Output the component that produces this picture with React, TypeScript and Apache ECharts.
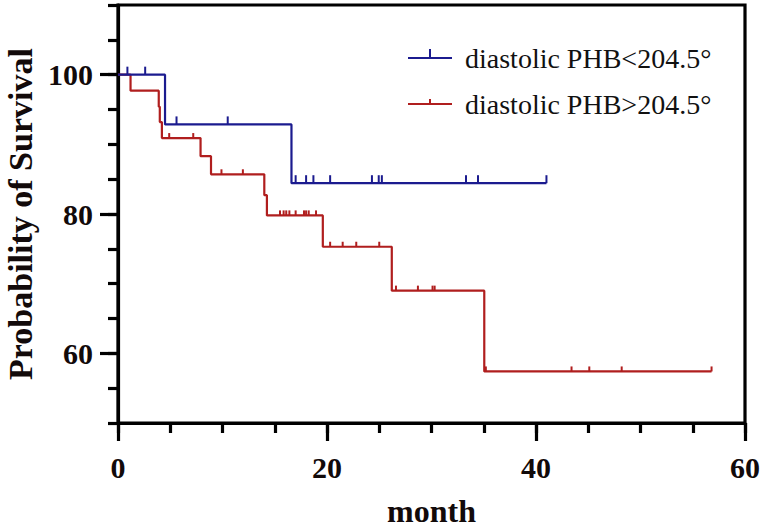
import React, { useEffect, useRef } from "react";
import * as echarts from "echarts";

// ---- data ----
const blueName = "diastolic PHB<204.5°";
const redName = "diastolic PHB>204.5°";

const blueEventTimes = [0, 4.5, 16.6];
const blueEventSurvival = [100, 92.86, 84.42];
const blueCensorTimes = [0.9, 2.6, 5.6, 10.5, 17.0, 18.0, 18.7, 20.3, 24.3, 24.95, 25.25, 33.3, 34.45, 41.0];

const redEventTimes = [0, 1.2, 3.9, 4.0, 4.2, 7.9, 8.9, 14.0, 14.25, 19.6, 26.2, 35.05];
const redEventSurvival = [100, 97.7, 95.4, 93.2, 90.9, 88.3, 85.7, 82.7, 79.8, 75.3, 69.0, 57.4];
const redCensorTimes = [
  4.9, 7.2, 9.9, 11.95, 15.5, 15.85, 16.1, 16.4, 17.0, 17.8, 18.0, 18.25, 18.95,
  20.3, 21.5, 22.8, 25.0, 26.6, 28.7, 30.1, 30.3, 35.2, 43.4, 45.1, 48.2, 56.8,
];

const xMajorTicks = [0, 20, 40, 60];
const yMajorTicks = [60, 80, 100];

const BLUE = "#1b1b8f";
const RED = "#b01e1e";
const SERIF = "Liberation Serif";

function buildKM(eventT: number[], eventS: number[], censorT: number[], tick: number) {
  const pts: { t: number; s: number; c: boolean }[] = [];
  eventT.forEach((t, i) => pts.push({ t, s: eventS[i], c: false }));
  censorT.forEach((t) => {
    let s = eventS[0];
    for (let i = 0; i < eventT.length; i++) if (eventT[i] <= t) s = eventS[i];
    pts.push({ t, s, c: true });
  });
  pts.sort((a, b) => (a.t - b.t) || (a.c === b.c ? 0 : a.c ? 1 : -1));
  return pts.map((p) =>
    p.c
      ? { value: [p.t, p.s], symbol: "rect", symbolSize: [2, tick], symbolOffset: [0, -tick / 2] }
      : { value: [p.t, p.s], symbol: "none" }
  );
}

const blueIcon = "path://M0,9L44,9L44,11L0,11Z M21,1L23,1L23,9L21,9Z M0,19L0.01,19";
const redIcon = "path://M0,9L44,9L44,11L0,11Z M21,5L23,5L23,9L21,9Z M0,1L0.01,1 M0,19L0.01,19";

export default function App() {
  const ref = useRef<HTMLDivElement>(null);
  useEffect(() => {
    document.body.style.margin = "0";
    if (!ref.current) return;
    const chart = echarts.init(ref.current, undefined, { renderer: "svg" });
    const axisLineStyle = { color: "#000", width: 3.2 };
    chart.setOption({
      animation: false,
      backgroundColor: "#fff",
      grid: {
        left: 118,
        right: 20,
        top: 5,
        bottom: 107,
        containLabel: false,
        outerBoundsMode: "none",
        show: true,
        borderColor: "#000",
        borderWidth: 3.2,
      },
      legend: {
        orient: "vertical",
        left: 408,
        top: 41,
        padding: 0,
        itemWidth: 44,
        itemHeight: 18,
        itemGap: 12,
        selectedMode: false,
        itemStyle: { borderWidth: 0 },
        textStyle: {
          fontFamily: SERIF,
          fontSize: 28,
          color: "#111",
          lineHeight: 34,
          padding: [0, 0, 0, 8],
        },
        data: [
          { name: blueName, icon: blueIcon },
          { name: redName, icon: redIcon },
        ],
      },
      xAxis: [
        {
          type: "value",
          min: 0,
          max: 60,
          position: "bottom",
          axisLine: { show: true, lineStyle: axisLineStyle },
          axisTick: { show: true, customValues: xMajorTicks, length: 18, lineStyle: axisLineStyle },
          axisLabel: {
            customValues: xMajorTicks,
            margin: 29,
            fontFamily: SERIF,
            fontSize: 30,
            fontWeight: "bold",
            color: "#120a0a",
          },
          splitLine: { show: false },
          name: "month",
          nameLocation: "middle",
          nameGap: 75,
          nameTextStyle: {
            fontFamily: SERIF,
            fontSize: 32,
            lineHeight: 26,
            fontWeight: "bold",
            color: "#120a0a",
          },
        },
        {
          type: "value",
          min: 0,
          max: 60,
          interval: 5,
          position: "bottom",
          axisLine: { show: false },
          axisTick: { show: true, length: 10, lineStyle: axisLineStyle },
          axisLabel: { show: false },
          splitLine: { show: false },
        },
      ],
      yAxis: [
        {
          type: "value",
          min: 50,
          max: 110,
          position: "left",
          axisLine: { show: true, lineStyle: axisLineStyle },
          axisTick: { show: true, customValues: yMajorTicks, length: 18, lineStyle: axisLineStyle },
          axisLabel: {
            customValues: yMajorTicks,
            margin: 25,
            fontFamily: SERIF,
            fontSize: 30,
            fontWeight: "bold",
            color: "#120a0a",
          },
          splitLine: { show: false },
          name: "Probability of Survival",
          nameLocation: "middle",
          nameGap: 84,
          nameTextStyle: {
            fontFamily: SERIF,
            fontSize: 34,
            lineHeight: 28,
            fontWeight: "bold",
            color: "#120a0a",
          },
        },
        {
          type: "value",
          min: 50,
          max: 110,
          interval: 5,
          position: "left",
          axisLine: { show: false },
          axisTick: { show: true, length: 10, lineStyle: axisLineStyle },
          axisLabel: { show: false },
          splitLine: { show: false },
        },
      ],
      series: [
        {
          name: blueName,
          type: "line",
          step: "end",
          showSymbol: true,
          showAllSymbol: true,
          symbolKeepAspect: false,
          lineStyle: { color: BLUE, width: 2.2 },
          itemStyle: { color: BLUE, borderWidth: 0 },
          emphasis: { disabled: true },
          data: buildKM(blueEventTimes, blueEventSurvival, blueCensorTimes, 8),
          z: 3,
        },
        {
          name: redName,
          type: "line",
          step: "end",
          showSymbol: true,
          showAllSymbol: true,
          symbolKeepAspect: false,
          lineStyle: { color: RED, width: 2.2 },
          itemStyle: { color: RED, borderWidth: 0 },
          emphasis: { disabled: true },
          data: buildKM(redEventTimes, redEventSurvival, redCensorTimes, 5),
          z: 2,
        },
      ],
    });
    return () => chart.dispose();
  }, []);
  return <div ref={ref} style={{ width: 765, height: 530 }} />;
}
